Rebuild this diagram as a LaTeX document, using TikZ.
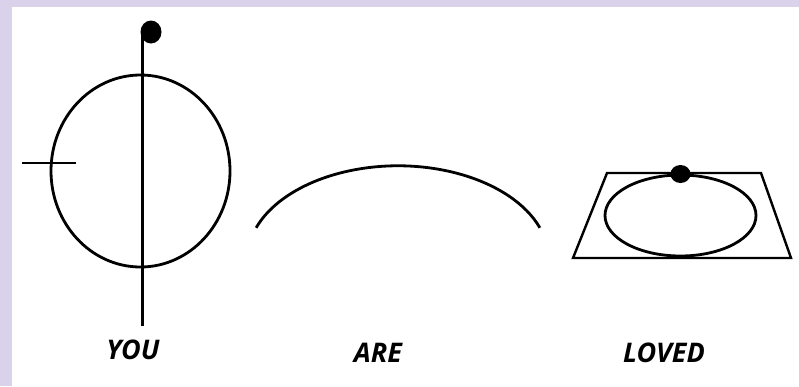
\documentclass[tikz,border=0pt]{standalone}
\usepackage{fontspec}
\setmainfont{Open Sans}
\usepackage{tikz}
\usetikzlibrary{positioning}
\definecolor{framelavender}{HTML}{DAD2EA}
\tikzset{
  stroke/.style={black,line width=2.8pt},
  thinstroke/.style={black,line width=2.4pt},
  blob/.style={fill=black},
  word/.style={inner sep=0pt,font=\fontsize{27}{30}\selectfont\bfseries\itshape}
}
\begin{document}
\begin{tikzpicture}[x=1pt,y=-1pt]
% frame
\fill[white] (0,0) rectangle (799,386);
\fill[framelavender] (0,0) rectangle (799,7);
\fill[framelavender] (0,0) rectangle (12,386);
\useasboundingbox (0,0) rectangle (799,386);
% you
\draw[stroke] (140.5,171) ellipse [x radius=89.5,y radius=96];
\draw[thinstroke] (142.5,32) -- (142.5,326);
\draw[thinstroke] (22,163) -- (76,163);
\fill[blob] (151,32) ellipse [x radius=10.5,y radius=11.5];
% are
\draw[stroke] (398,260) ++(-20:151 and 94.2) arc [start angle=-20,end angle=-160,x radius=151,y radius=94.2];
% loved
\draw[thinstroke] (607,173) -- (761,173) -- (791,258) -- (573,258) -- cycle;
\draw[stroke] (680.5,215.5) ellipse [x radius=75.5,y radius=40.5];
\fill[blob] (680.5,174) ellipse [x radius=10,y radius=9];
% labels
\node[word] (you) at (133,350) {YOU};
\node[word] (are) at (378,353) {ARE};
\node[word] (loved) at (664,353) {LOVED};
\end{tikzpicture}
\end{document}
